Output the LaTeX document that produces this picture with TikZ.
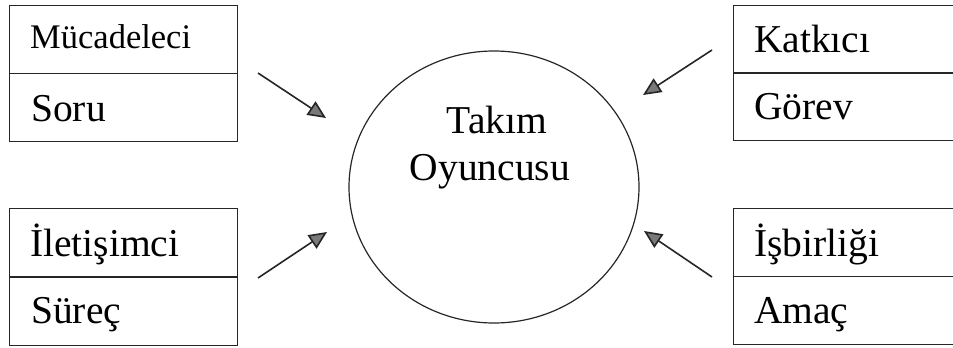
\documentclass[tikz,border=0pt]{standalone}
\usepackage{fontspec}
\setmainfont{Liberation Serif}
\usetikzlibrary{arrows.meta,shapes.geometric}
\begin{document}
\begin{tikzpicture}[x=1pt,y=-1pt,
  cell/.style={draw=black!85, line width=1.2pt, minimum width=#1, minimum height=68pt, anchor=north west, inner sep=0pt},
  lbl/.style={anchor=base west, inner sep=0pt, font=\fontsize{39.5}{44}\selectfont},
  arr/.style={line width=1.6pt, -{Triangle[length=18pt,width=16pt,fill=gray!50!black!70]}, draw=black!85}]
\useasboundingbox (0,0) rectangle (953,348);
\clip (0,0) rectangle (953,348);
% left boxes
\node[cell=228pt] (mr) at (9,5) {};
\node[cell=228pt] (sr) at (9,73) {};
\node[cell=228pt] (ir) at (9,208) {};
\node[cell=228pt] (su) at (9,277) {};
% right boxes (cut by page edge)
\node[cell=240pt] (kr) at (733,5) {};
\node[cell=240pt] (gr) at (733,72) {};
\node[cell=240pt] (br) at (733,208) {};
\node[cell=240pt] (ar) at (733,276) {};
% texts
\node[lbl, font=\fontsize{34.5}{40}\selectfont] (t1) at (30,48) {Mücadeleci};
\node[lbl] (t2) at (31,121) {Soru};
\node[lbl] (t3) at (30,256) {İletişimci};
\node[lbl] (t4) at (31,323) {Süreç};
\node[lbl] (t5) at (754,52) {Katkıcı};
\node[lbl] (t6) at (754,119) {Görev};
\node[lbl] (t7) at (754,256) {İşbirliği};
\node[lbl] (t8) at (754,323) {Amaç};
% circle
\node[draw=black!85, line width=1.2pt, ellipse, minimum width=290pt, minimum height=272pt, inner sep=0pt] (c) at (494,187) {};
\node[anchor=base, inner sep=0pt, font=\fontsize{39.5}{44}\selectfont] (c1) at (497,133) {Takım};
\node[anchor=base, inner sep=0pt, font=\fontsize{39.5}{44}\selectfont] (c2) at (490,180) {Oyuncusu};
% arrows
\coordinate (a1s) at (258,73);  \coordinate (a1e) at (326,118);
\coordinate (a2s) at (258,278); \coordinate (a2e) at (327,232);
\coordinate (a3s) at (712,50);  \coordinate (a3e) at (643,95);
\coordinate (a4s) at (712,277); \coordinate (a4e) at (644,231);
\draw[arr] (a1s) -- (a1e);
\draw[arr] (a2s) -- (a2e);
\draw[arr] (a3s) -- (a3e);
\draw[arr] (a4s) -- (a4e);
\end{tikzpicture}
\end{document}
